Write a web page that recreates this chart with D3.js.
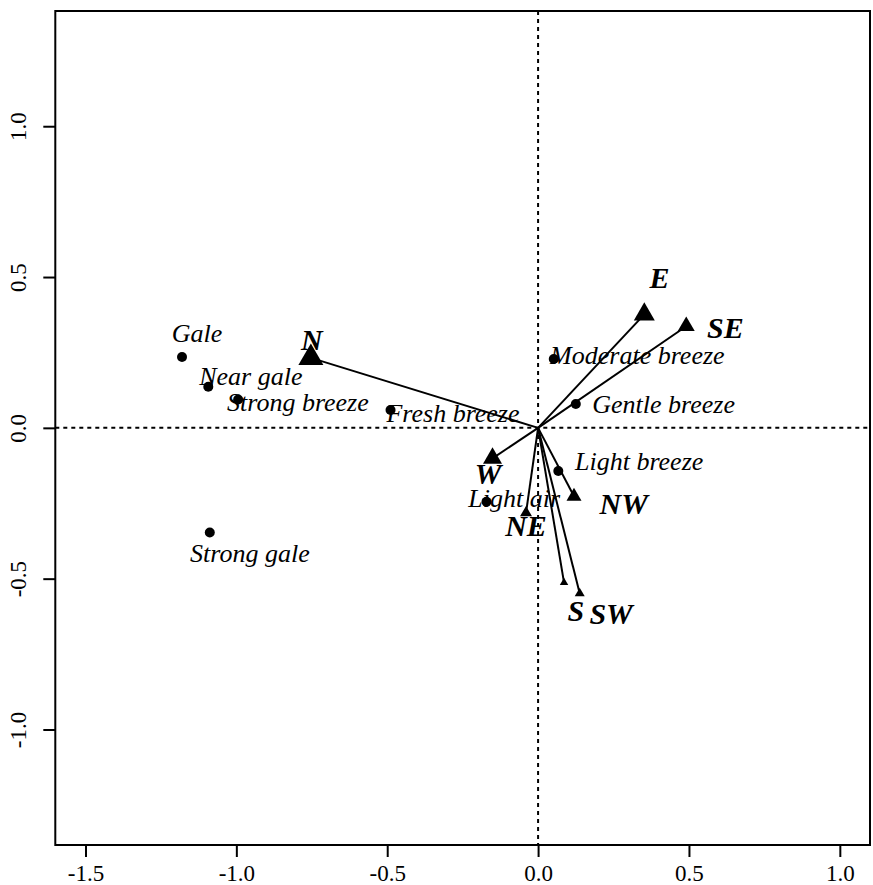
<!DOCTYPE html>
<html>
<head>
<meta charset="utf-8">
<script src="https://cdn.jsdelivr.net/npm/d3@7"></script>
<style>
  body { margin: 0; background: #fff; }
  svg { display: block; font-family: "Liberation Serif", "Times New Roman", serif; }
</style>
</head>
<body>
<div id="chart"></div>
<script>
// Beaufort classes (points)
var classNames = ["Gale", "Near gale", "Strong breeze", "Fresh breeze", "Moderate breeze",
                  "Gentle breeze", "Light breeze", "Light air", "Strong gale"];
var classX = [-1.180, -1.093, -0.994, -0.489, 0.052, 0.125, 0.067, -0.171, -1.088];
var classY = [0.235, 0.136, 0.094, 0.059, 0.228, 0.079, -0.143, -0.245, -0.347];
var classLabelX = [-1.130, -0.952, -0.796, -0.282, 0.329, 0.416, 0.335, -0.079, -0.955];
var classLabelY = [0.313, 0.171, 0.085, 0.049, 0.241, 0.079, -0.112, -0.233, -0.415];

// wind directions (vectors)
var dirNames = ["N", "E", "SE", "W", "NW", "NE", "S", "SW"];
var dirX = [-0.753, 0.352, 0.491, -0.151, 0.119, -0.040, 0.086, 0.138];
var dirY = [0.232, 0.376, 0.337, -0.101, -0.227, -0.282, -0.513, -0.549];
var dirWeight = [2.5, 2.1, 1.7, 1.9, 1.5, 1.2, 0.85, 1.0];
var dirLabelX = [-0.750, 0.402, 0.621, -0.166, 0.284, -0.040, 0.125, 0.242];
var dirLabelY = [0.291, 0.497, 0.331, -0.153, -0.253, -0.326, -0.607, -0.618];

var xTicks = [-1.5, -1.0, -0.5, 0.0, 0.5, 1.0];
var yTicks = [-1.0, -0.5, 0.0, 0.5, 1.0];

var w = 873, h = 885;
var pLeft = 55.3, pRight = 870, pTop = 11, pBottom = 845;

var x = d3.scaleLinear().domain([-1.6, 1.1]).range([pLeft, pRight]);
var y = d3.scaleLinear().domain([-1.383, 1.382]).range([pBottom, pTop]);
var triSize = d3.scaleLinear().domain([0, 1]).range([0, 10]);

var fmt = function(d) { return d3.format(".1f")(d).replace("\u2212", "-"); };

var svg = d3.select("#chart").append("svg")
    .attr("width", w)
    .attr("height", h);

// zero lines
svg.append("line")
   .attr("x1", x(0)).attr("x2", x(0))
   .attr("y1", pTop).attr("y2", pBottom)
   .attr("stroke", "#000").attr("stroke-width", 2)
   .attr("stroke-dasharray", "4,4");
svg.append("line")
   .attr("x1", pLeft).attr("x2", pRight)
   .attr("y1", y(0)).attr("y2", y(0))
   .attr("stroke", "#000").attr("stroke-width", 2)
   .attr("stroke-dasharray", "4,4");

// axes
var xAxis = d3.axisBottom(x).tickValues(xTicks).tickSize(12).tickSizeOuter(0).tickFormat(fmt);
var gx = svg.append("g").attr("transform", "translate(0," + pBottom + ")").call(xAxis);
gx.select(".domain").remove();
gx.selectAll(".tick line").attr("stroke-width", 2);
gx.selectAll(".tick text")
  .attr("y", 36).attr("dy", 0)
  .style("font-family", "Liberation Serif").style("font-size", "23px");

var yAxis = d3.axisLeft(y).tickValues(yTicks).tickSize(12).tickSizeOuter(0).tickFormat(fmt);
var gy = svg.append("g").attr("transform", "translate(" + pLeft + ",0)").call(yAxis);
gy.select(".domain").remove();
gy.selectAll(".tick line").attr("stroke-width", 2);
gy.selectAll(".tick text")
  .attr("x", 0).attr("y", 0).attr("dy", 0)
  .attr("text-anchor", "middle")
  .attr("transform", "translate(-29,0) rotate(-90)")
  .style("font-family", "Liberation Serif").style("font-size", "23px");

// box
svg.append("rect")
   .attr("x", pLeft).attr("y", pTop)
   .attr("width", pRight - pLeft).attr("height", pBottom - pTop)
   .attr("fill", "none").attr("stroke", "#000").attr("stroke-width", 2);

// vectors
var dirs = dirNames.map(function(n, i) {
  return { name: n, x: dirX[i], y: dirY[i], wt: dirWeight[i], lx: dirLabelX[i], ly: dirLabelY[i] };
});

svg.selectAll(".vec")
   .data(dirs)
   .enter()
   .append("line")
   .attr("class", "vec")
   .attr("x1", x(0)).attr("y1", y(0))
   .attr("x2", function(d) { return x(d.x); })
   .attr("y2", function(d) { return y(d.y); })
   .attr("stroke", "#000").attr("stroke-width", 2);

svg.selectAll(".tri")
   .data(dirs)
   .enter()
   .append("path")
   .attr("class", "tri")
   .attr("transform", function(d) { return "translate(" + x(d.x) + "," + y(d.y) + ")"; })
   .attr("d", function(d) {
      var s = triSize(d.wt);
      return d3.symbol().type(d3.symbolTriangle).size(Math.sqrt(3) / 4 * s * s)();
   })
   .attr("fill", "#000");

svg.selectAll(".dirlab")
   .data(dirs)
   .enter()
   .append("text")
   .attr("class", "dirlab")
   .attr("x", function(d) { return x(d.lx); })
   .attr("y", function(d) { return y(d.ly); })
   .attr("dy", "0.33em")
   .attr("text-anchor", "middle")
   .style("font-size", "30px")
   .style("font-weight", "bold")
   .style("font-style", "italic")
   .text(function(d) { return d.name; });

// classes
var classes = classNames.map(function(n, i) {
  return { name: n, x: classX[i], y: classY[i], lx: classLabelX[i], ly: classLabelY[i] };
});

svg.selectAll(".pt")
   .data(classes)
   .enter()
   .append("circle")
   .attr("class", "pt")
   .attr("cx", function(d) { return x(d.x); })
   .attr("cy", function(d) { return y(d.y); })
   .attr("r", 5)
   .attr("fill", "#000");

svg.selectAll(".ptlab")
   .data(classes)
   .enter()
   .append("text")
   .attr("class", "ptlab")
   .attr("x", function(d) { return x(d.lx); })
   .attr("y", function(d) { return y(d.ly); })
   .attr("dy", "0.33em")
   .attr("text-anchor", "middle")
   .style("font-size", "26px")
   .style("font-style", "italic")
   .text(function(d) { return d.name; });
</script>
</body>
</html>
